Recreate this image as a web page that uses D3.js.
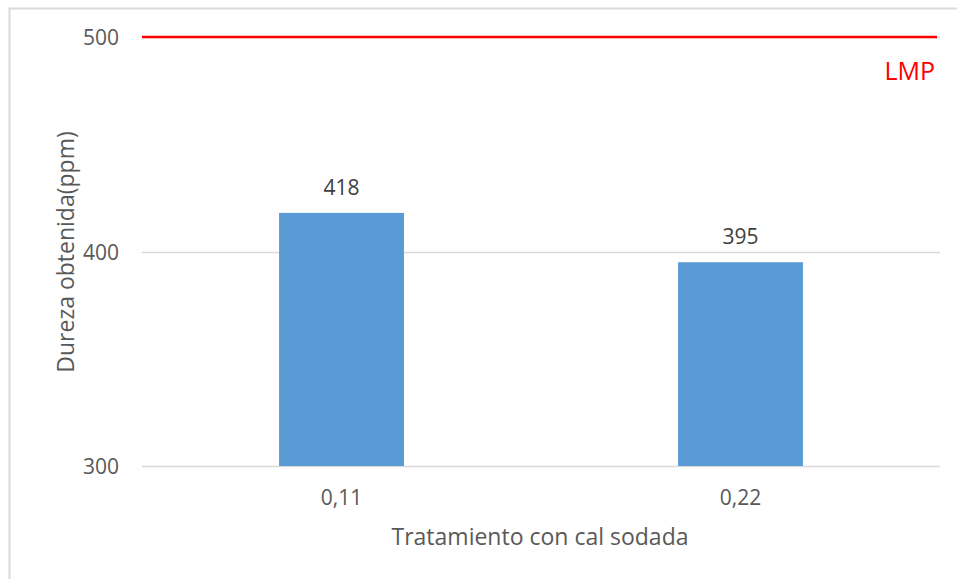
<!DOCTYPE html>
<html>
<head>
<meta charset="utf-8">
<script src="https://cdn.jsdelivr.net/npm/d3@7"></script>
<style>
  html, body { margin: 0; padding: 0; background: #fff; }
  svg { display: block; }
</style>
</head>
<body>
<div id="chart"></div>
<script>
    "use strict";

    // Datos
    var categories = ["0,11", "0,22"];
    var values = [418, 395];
    var yTicks = [300, 400, 500];
    var limitValue = 500;      // LMP
    var limitLabel = "LMP";

    var width = 957, height = 579;
    var margin = { top: 37, right: 17, bottom: 113, left: 142 };
    var font = "'Open Sans', 'Segoe UI', sans-serif";
    var textColor = "#595959";

    var svg = d3.select("#chart")
        .append("svg")
        .attr("width", width)
        .attr("height", height);

    // borde del gráfico
    svg.append("rect")
        .attr("x", 9.5).attr("y", 8.5)
        .attr("width", width + 10).attr("height", height + 10)
        .attr("fill", "#fff")
        .attr("stroke", "#d9d9d9")
        .attr("stroke-width", 2);

    var x = d3.scaleBand()
        .domain(categories)
        .range([margin.left, width - margin.right])
        .paddingInner(0.687)
        .paddingOuter(0.3435);

    var y = d3.scaleLinear()
        .domain([300, 500])
        .range([height - margin.bottom, margin.top]);

    // líneas de cuadrícula
    svg.append("g")
        .selectAll("line")
        .data(yTicks)
        .enter()
        .append("line")
        .attr("x1", margin.left)
        .attr("x2", width - margin.right)
        .attr("y1", function (d) { return Math.round(y(d)) + 0.5; })
        .attr("y2", function (d) { return Math.round(y(d)) + 0.5; })
        .attr("stroke", "#d9d9d9")
        .attr("stroke-width", 1.5);

    // etiquetas del eje Y
    var yAxis = d3.axisLeft(y).tickValues(yTicks).tickSize(0).tickPadding(0);
    var gy = svg.append("g")
        .attr("transform", "translate(" + 119 + ",0)")
        .call(yAxis);
    gy.select(".domain").remove();
    gy.selectAll("text")
        .attr("dy", "0.36em")
        .style("font-family", font)
        .style("font-size", "21px")
        .style("fill", textColor);

    // barras
    svg.append("g")
        .selectAll("rect")
        .data(values)
        .enter()
        .append("rect")
        .attr("x", function (d, i) { return x(categories[i]); })
        .attr("width", x.bandwidth())
        .attr("y", function (d) { return y(d); })
        .attr("height", function (d) { return y(300) - y(d); })
        .attr("fill", "#5b9bd5");

    // etiquetas de valores
    svg.append("g")
        .selectAll("text")
        .data(values)
        .enter()
        .append("text")
        .attr("x", function (d, i) { return x(categories[i]) + x.bandwidth() / 2; })
        .attr("y", function (d) { return y(d) - 18; })
        .attr("text-anchor", "middle")
        .style("font-family", font)
        .style("font-size", "21px")
        .style("fill", "#404040")
        .text(function (d) { return d; });

    // eje X (solo etiquetas)
    var xAxis = d3.axisBottom(x).tickSize(0).tickPadding(0);
    var gx = svg.append("g")
        .attr("transform", "translate(0," + (height - margin.bottom + 39) + ")")
        .call(xAxis);
    gx.select(".domain").remove();
    gx.selectAll("text")
        .attr("dy", "0")
        .style("font-family", font)
        .style("font-size", "21px")
        .style("fill", textColor);

    // línea LMP
    svg.append("line")
        .attr("x1", margin.left)
        .attr("x2", 937)
        .attr("y1", y(limitValue))
        .attr("y2", y(limitValue))
        .attr("stroke", "#ff0000")
        .attr("stroke-width", 2.5);

    svg.append("text")
        .attr("x", 935)
        .attr("y", 80)
        .attr("text-anchor", "end")
        .style("font-family", font)
        .style("font-size", "25px")
        .style("fill", "#ff0000")
        .text(limitLabel);

    // títulos de ejes
    svg.append("text")
        .attr("x", 540)
        .attr("y", 545)
        .attr("text-anchor", "middle")
        .style("font-family", font)
        .style("font-size", "23px")
        .style("fill", textColor)
        .text("Tratamiento con cal sodada");

    svg.append("text")
        .attr("transform", "translate(74," + 252 + ") rotate(-90)")
        .attr("text-anchor", "middle")
        .style("font-family", font)
        .style("font-size", "23px")
        .style("fill", textColor)
        .text("Dureza obtenida(ppm)");
</script>
</body>
</html>
